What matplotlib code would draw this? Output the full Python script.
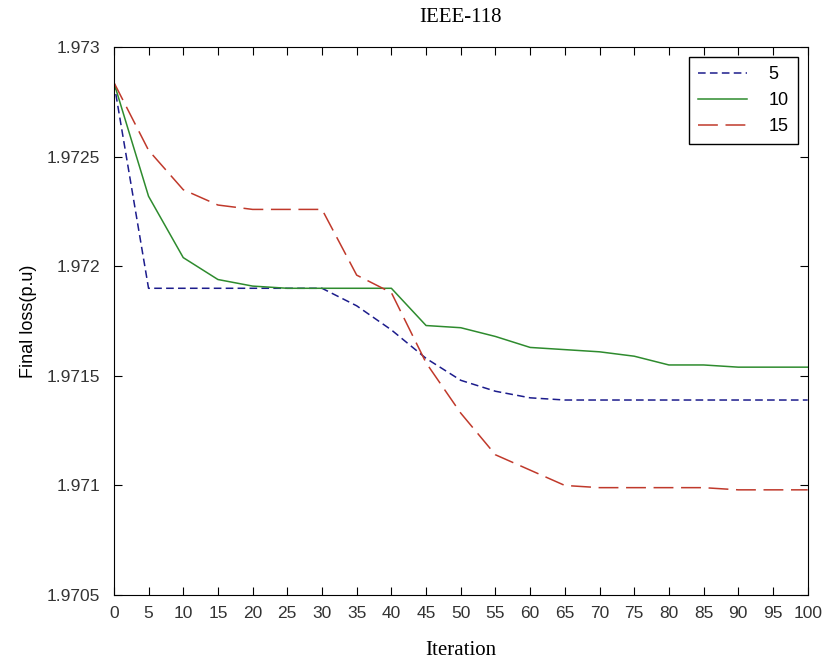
import numpy as np
import matplotlib
matplotlib.use("Agg")
import matplotlib.pyplot as plt

iterations = [0, 5, 10, 15, 20, 25, 30, 35, 40, 45, 50, 55, 60, 65, 70, 75, 80, 85, 90, 95, 100]

loss_5 = [1.97284, 1.97190, 1.97190, 1.97190, 1.97190, 1.97190, 1.97190, 1.97182, 1.97171, 1.97158,
          1.97148, 1.97143, 1.97140, 1.97139, 1.97139, 1.97139, 1.97139, 1.97139, 1.97139, 1.97139, 1.97139]
loss_10 = [1.97284, 1.97232, 1.97204, 1.97194, 1.97191, 1.97190, 1.97190, 1.97190, 1.97190, 1.97173,
           1.97172, 1.97168, 1.97163, 1.97162, 1.97161, 1.97159, 1.97155, 1.97155, 1.97154, 1.97154, 1.97154]
loss_15 = [1.97284, 1.97253, 1.97235, 1.97228, 1.97226, 1.97226, 1.97226, 1.97196, 1.97188, 1.97156,
           1.97133, 1.97114, 1.97107, 1.97100, 1.97099, 1.97099, 1.97099, 1.97099, 1.97098, 1.97098, 1.97098]

fig = plt.figure(figsize=(8.25, 6.66), dpi=100)
ax = fig.add_axes([0.138, 0.1066, 0.841, 0.8224])

ax.plot(iterations, loss_5, color="#1c1c8c", lw=1.1, dashes=(5, 2.8), label="5")
ax.plot(iterations, loss_10, color="#2e8b2e", lw=1.1, label="10")
ax.plot(iterations, loss_15, color="#c0392b", lw=1.1, dashes=(13, 5), label="15")

ax.set_xlim(0, 100)
ax.set_ylim(1.9705, 1.973)
ax.set_xticks(np.arange(0, 101, 5))
ax.set_yticks([1.9705, 1.971, 1.9715, 1.972, 1.9725, 1.973])
ax.set_yticklabels(["1.9705", "1.971", "1.9715", "1.972", "1.9725", "1.973"])
ax.tick_params(direction="in", top=True, right=True, length=6, labelsize=12.5)
ax.tick_params(axis="x", pad=8)
ax.tick_params(axis="y", pad=10)
for lab in ax.get_xticklabels() + ax.get_yticklabels():
    lab.set_family("Liberation Sans")
    lab.set_color("#333333")

ax.set_title("IEEE-118", family="Liberation Serif", fontsize=15, pad=18)
ax.set_xlabel("Iteration", family="Liberation Serif", fontsize=15, labelpad=14)
ax.set_ylabel("Final loss(p.u)", family="Liberation Sans", fontsize=13, labelpad=7)

leg = ax.legend(loc="upper right", prop={"family": "Liberation Sans", "size": 13},
                fancybox=False, edgecolor="black", framealpha=1, handlelength=2.7,
                handletextpad=1.2, borderaxespad=0.55, borderpad=0.5)
leg.get_frame().set_linewidth(1.0)

fig.savefig("out.png", dpi=100)
